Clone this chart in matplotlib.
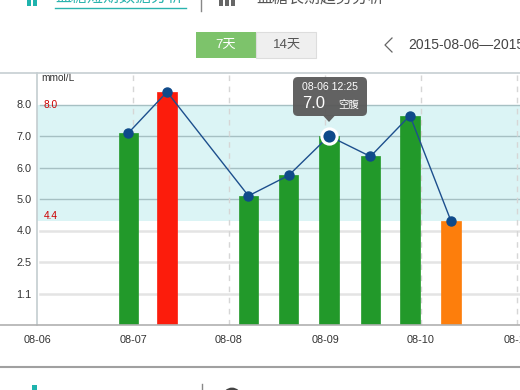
import numpy as np
import matplotlib
matplotlib.use('Agg')
import matplotlib.pyplot as plt
from matplotlib.patches import FancyBboxPatch, Polygon, Rectangle, Circle
from datetime import datetime

# ---------------- data ----------------
times = ["08-06 22:52", "08-07 08:30", "08-08 04:52", "08-08 14:56",
         "08-09 01:00", "08-09 11:22", "08-09 21:14", "08-10 07:30"]
values = [7.1, 8.4, 5.1, 5.75, 7.0, 6.35, 7.65, 4.3]
bar_colors = ["#22992a", "#fc1c0c", "#22992a", "#22992a",
              "#22992a", "#22992a", "#22992a", "#fd7e0c"]
day_labels = ["08-06", "08-07", "08-08", "08-09", "08-10", "08-11"]
ytick_values = [1.1, 2.5, 4.0, 5.0, 6.0, 7.0, 8.0]
ytick_labels = ["1.1", "2.5", "4.0", "5.0", "6.0", "7.0", "8.0"]
scale_values = [0.0, 1.1, 2.5, 4.0, 5.0, 6.0, 7.0, 8.0, 9.0]
target_low, target_high = 4.3, 8.0
target_labels = ["8.0", "4.4"]
highlight_index = 4
tooltip_time = "08-06 12:25"
tooltip_value = "7.0"
tooltip_tag = "空腹"
unit_label = "mmol/L"
tab_labels = ["血糖短期数据分析", "血糖长期趋势分析"]
button_labels = ["7天", "14天"]
date_range = "2015-08-06—2015-08-12"

FONT = ['Liberation Sans', 'Noto Sans CJK SC', 'DejaVu Sans']
plt.rcParams['font.family'] = FONT

# ---------------- helpers ----------------
t0 = datetime(2015, 8, 6)
xs = [(datetime.strptime("2015-" + t, "%Y-%m-%d %H:%M") - t0).total_seconds() / 86400.0
      for t in times]
day_pos = list(range(len(day_labels)))
sv = np.array(scale_values)
sp = np.arange(len(scale_values), dtype=float)

def fwd(v):
    return np.interp(v, sv, sp)

def inv(p):
    return np.interp(p, sp, sv)

W, H = 520, 390
fig = plt.figure(figsize=(W / 100, H / 100), dpi=100)
fig.patch.set_facecolor('white')

px_per_day = 96.0
left_px, bottom_px, top_px = 37, 325, 73
ax = fig.add_axes([left_px / W, (H - bottom_px) / H, (W - left_px) / W, (bottom_px - top_px) / H])
ax.set_yscale('function', functions=(fwd, inv))
ax.set_ylim(0, 9.0)
ax.set_xlim(0, (W - left_px) / px_per_day)
ax.set_facecolor('none')

# target band
ax.axhspan(target_low, target_high, color='#dbf4f5', zorder=0, lw=0)

# horizontal grid
x0 = 3 / (W - left_px)
for v in ytick_values:
    if target_low <= v <= target_high:
        ax.axhline(v, xmin=x0, xmax=1, color='#a6c0c3', lw=1.0, zorder=1)
    else:
        ax.axhline(v, xmin=x0, xmax=1, color='#e4e4e4', lw=1.8, zorder=1)

# vertical dashed day lines
for d in day_pos[1:]:
    ax.axvline(d, color='#d6d6d6', lw=1.0, ls=(0, (4, 4)), zorder=1)

# bars
ax.bar(xs, values, width=0.203, color=bar_colors, edgecolor=bar_colors, lw=0.5, zorder=3)

# line with markers
ax.plot(xs, values, color='#1d4f8d', lw=1.0, zorder=4)
ax.plot(xs, values, ls='none', marker='o', ms=6.5, color='#0f4a8a', zorder=5)
ax.plot([xs[highlight_index]], [values[highlight_index]], ls='none', marker='o', ms=11,
        color='#0f4a8a', mec='white', mew=2.2, zorder=6)

# axes styling
for s in ['top', 'right', 'bottom']:
    ax.spines[s].set_visible(False)
ax.spines['left'].set_color('#c4cdd0')
ax.spines['left'].set_linewidth(1.2)
ax.set_yticks(ytick_values)
ax.set_yticklabels(ytick_labels)
ax.yaxis.set_minor_locator(matplotlib.ticker.NullLocator())
ax.set_xticks(day_pos)
ax.set_xticklabels(day_labels)
ax.tick_params(axis='y', length=0, pad=4, labelsize=7.8, labelcolor='#333333')
ax.tick_params(axis='x', length=0, pad=7, labelsize=7.8, labelcolor='#333333')
for lab in ax.get_xticklabels() + ax.get_yticklabels():
    lab.set_family(FONT)

# unit and target labels
ax.text(4 / (W - left_px), 1 - 5 / (bottom_px - top_px), unit_label, transform=ax.transAxes,
        fontsize=7.3, color='#333333', ha='left', va='center')
ax.text(7 / px_per_day, target_high, target_labels[0], fontsize=7.3, color='#cc0000',
        ha='left', va='center', zorder=7)
ax.text(7 / px_per_day, target_low, target_labels[1], fontsize=7.3, color='#cc0000',
        ha='left', va='bottom', zorder=7)

# ---------------- overlay (page chrome) ----------------
ov = fig.add_axes([0, 0, 1, 1], zorder=10)
ov.set_xlim(0, W)
ov.set_ylim(H, 0)
ov.axis('off')
ov.patch.set_alpha(0)

# chart frame lines
ov.plot([0, W], [top_px, top_px], color='#c6ced2', lw=1.2)
ov.plot([0, W], [bottom_px, bottom_px], color='#b0b0b0', lw=1.2)
ov.plot([0, W], [367, 367], color='#a0a0a0', lw=1.5)

# header tabs
for xb in (27, 33):
    ov.add_patch(Rectangle((xb, -2), 4, 8, color='#1fb3ad', lw=0))
ov.text(55, -2, tab_labels[0], fontsize=11.5, color='#2ab3ae', ha='left', va='center')
ov.plot([55, 186], [7.5, 7.5], color='#2ab3ae', lw=1)
ov.plot([201, 201], [0, 11], color='#888888', lw=1)
for xb in (219, 225, 231):
    ov.add_patch(Rectangle((xb, -2), 4, 8, color='#666666', lw=0))
ov.text(256, -2, tab_labels[1], fontsize=11.5, color='#555555', ha='left', va='center')

# buttons
ov.add_patch(Rectangle((196, 32), 60, 26, color='#7dc36b', lw=0))
ov.text(226, 45, button_labels[0], fontsize=9.5, color='white', ha='center', va='center')
ov.add_patch(Rectangle((256, 32), 60, 26, facecolor='#efefef', edgecolor='#dddddd', lw=0.8))
ov.text(287, 45, button_labels[1], fontsize=9.5, color='#555555', ha='center', va='center')

# date range navigator
ov.plot([392, 385, 392], [38, 45, 52], color='#666666', lw=0.9)
ov.text(408, 45, date_range, fontsize=10, color='#444444', ha='left', va='center')

# bottom partial icons
ov.add_patch(Rectangle((32, 385), 5, 6, color='#1fb3ad', lw=0))
ov.plot([202, 202], [384, 391], color='#888888', lw=1)
ov.add_patch(Circle((232, 397), 8, fill=False, edgecolor='#444444', lw=2))

# tooltip anchored on highlighted point
fig.canvas.draw()
dx, dy = ax.transData.transform((xs[highlight_index], values[highlight_index]))
px, py = dx, H - dy
bw, bh = 74, 39
bx, by = px - 36, py - 20 - bh
ov.add_patch(FancyBboxPatch((bx, by), bw, bh, boxstyle='round,pad=0,rounding_size=5',
                            facecolor='#595959', edgecolor='none', alpha=0.95, zorder=20))
ov.add_patch(Polygon([(px - 6, by + bh - 0.5), (px + 6, by + bh - 0.5), (px, by + bh + 6)],
                     closed=True, facecolor='#595959', edgecolor='none', alpha=0.95, zorder=20))
ov.text(px + 1, by + 10, tooltip_time, fontsize=7.6, color='white', ha='center', va='center', zorder=21)
ov.text(bx + 9, by + 27, tooltip_value, fontsize=12, color='white', ha='left', va='center', zorder=21)
ov.text(bx + 45, by + 28, tooltip_tag, fontsize=7.5, color='white', ha='left', va='center', zorder=21)

fig.savefig('out.png', dpi=100, facecolor='white')
